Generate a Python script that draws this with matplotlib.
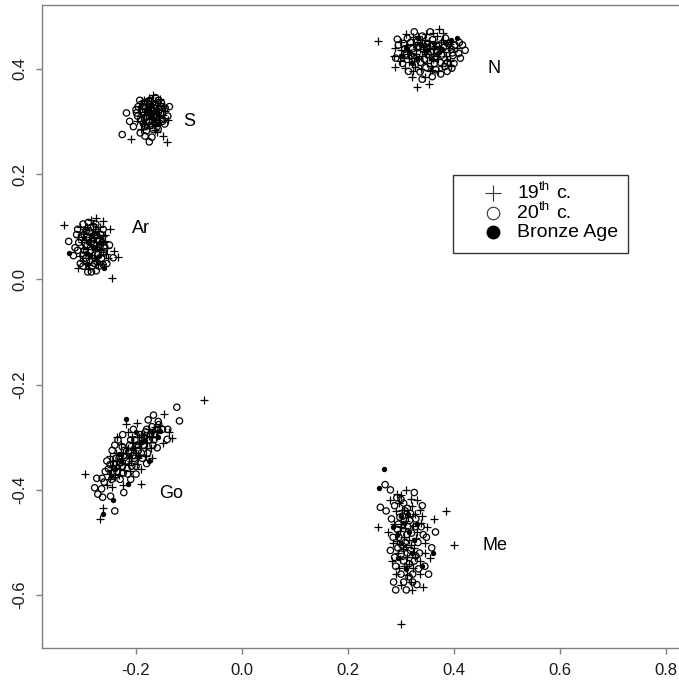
import matplotlib
matplotlib.use("Agg")
import matplotlib.pyplot as plt
from matplotlib.transforms import offset_copy
import numpy as np

plt.rcParams['font.family'] = ['Liberation Sans', 'DejaVu Sans']

# points, (x, y) per specimen
# 19th c. = "+", 20th c. = open circle, Bronze Age = filled circle
N_plus = [(0.257, 0.453), (0.372, 0.475), (0.288, 0.439), (0.286, 0.424), (0.288, 0.404),
          (0.330, 0.366), (0.352, 0.370), (0.320, 0.385), (0.305, 0.420), (0.312, 0.445),
          (0.318, 0.430), (0.325, 0.415), (0.330, 0.450), (0.335, 0.438), (0.340, 0.425),
          (0.345, 0.455), (0.350, 0.410), (0.355, 0.440), (0.360, 0.428), (0.365, 0.448),
          (0.370, 0.418), (0.375, 0.435), (0.380, 0.455), (0.385, 0.425), (0.390, 0.440),
          (0.300, 0.435), (0.308, 0.402), (0.322, 0.460), (0.338, 0.400), (0.348, 0.465),
          (0.358, 0.398), (0.368, 0.462), (0.378, 0.405), (0.395, 0.450), (0.315, 0.412),
          (0.328, 0.428), (0.342, 0.442), (0.353, 0.422), (0.362, 0.437), (0.333, 0.462),
          (0.298, 0.415), (0.392, 0.415), (0.303, 0.428), (0.313, 0.436), (0.323, 0.447),
          (0.334, 0.421), (0.344, 0.433), (0.352, 0.452), (0.361, 0.419), (0.372, 0.441),
          (0.382, 0.432), (0.393, 0.446), (0.326, 0.404), (0.339, 0.455), (0.357, 0.406),
          (0.368, 0.425), (0.386, 0.417), (0.316, 0.420), (0.347, 0.428), (0.364, 0.443),
          (0.329, 0.437), (0.376, 0.450), (0.395, 0.405), (0.405, 0.440), (0.300, 0.450),
          (0.310, 0.465), (0.355, 0.395), (0.370, 0.395), (0.345, 0.385), (0.323, 0.395),
          (0.380, 0.468), (0.360, 0.468)]
N_open = [(0.293, 0.456), (0.421, 0.435), (0.412, 0.420), (0.396, 0.401), (0.359, 0.385),
          (0.336, 0.394), (0.409, 0.429), (0.402, 0.445), (0.310, 0.428), (0.318, 0.450),
          (0.327, 0.408), (0.332, 0.440), (0.344, 0.418), (0.350, 0.448), (0.356, 0.432),
          (0.363, 0.410), (0.371, 0.445), (0.377, 0.426), (0.384, 0.458), (0.388, 0.412),
          (0.395, 0.437), (0.303, 0.410), (0.314, 0.395), (0.340, 0.462), (0.366, 0.398),
          (0.398, 0.425), (0.380, 0.440), (0.322, 0.438), (0.347, 0.402), (0.416, 0.445),
          (0.305, 0.448), (0.360, 0.455), (0.307, 0.437), (0.319, 0.424), (0.331, 0.452),
          (0.337, 0.412), (0.352, 0.427), (0.358, 0.445), (0.369, 0.433), (0.374, 0.412),
          (0.389, 0.448), (0.397, 0.430), (0.342, 0.437), (0.312, 0.458), (0.365, 0.420),
          (0.383, 0.404), (0.326, 0.419), (0.290, 0.420), (0.295, 0.445), (0.410, 0.450),
          (0.400, 0.410), (0.375, 0.390), (0.340, 0.380), (0.325, 0.470), (0.355, 0.470),
          (0.387, 0.395)]
N_bronze = [(0.406, 0.458), (0.395, 0.455), (0.310, 0.440), (0.330, 0.420), (0.350, 0.435),
            (0.370, 0.430), (0.320, 0.410), (0.385, 0.448), (0.345, 0.445), (0.300, 0.425),
            (0.336, 0.447), (0.358, 0.418), (0.378, 0.438), (0.315, 0.430), (0.333, 0.458),
            (0.362, 0.448)]

S_plus = [(-0.210, 0.266), (-0.150, 0.273), (-0.142, 0.260), (-0.139, 0.302), (-0.195, 0.330),
          (-0.185, 0.340), (-0.175, 0.345), (-0.165, 0.338), (-0.155, 0.342), (-0.148, 0.330),
          (-0.190, 0.310), (-0.180, 0.320), (-0.170, 0.305), (-0.160, 0.318), (-0.150, 0.312),
          (-0.185, 0.295), (-0.175, 0.288), (-0.165, 0.292), (-0.155, 0.298), (-0.198, 0.300),
          (-0.160, 0.280), (-0.172, 0.328), (-0.182, 0.305), (-0.145, 0.320), (-0.168, 0.350),
          (-0.158, 0.303), (-0.178, 0.312), (-0.190, 0.285), (-0.162, 0.325), (-0.188, 0.325),
          (-0.181, 0.333), (-0.174, 0.318), (-0.167, 0.315), (-0.159, 0.331), (-0.152, 0.322),
          (-0.176, 0.295), (-0.169, 0.298), (-0.163, 0.308), (-0.184, 0.312), (-0.156, 0.309),
          (-0.171, 0.338), (-0.193, 0.318), (-0.147, 0.307), (-0.179, 0.325), (-0.188, 0.338),
          (-0.176, 0.305), (-0.154, 0.334), (-0.165, 0.284)]
S_open = [(-0.218, 0.316), (-0.226, 0.275), (-0.175, 0.261), (-0.137, 0.328), (-0.205, 0.290),
          (-0.200, 0.322), (-0.192, 0.278), (-0.183, 0.272), (-0.170, 0.270), (-0.158, 0.285),
          (-0.146, 0.295), (-0.140, 0.310), (-0.152, 0.335), (-0.163, 0.345), (-0.178, 0.335),
          (-0.193, 0.340), (-0.188, 0.318), (-0.176, 0.300), (-0.166, 0.310), (-0.156, 0.322),
          (-0.182, 0.290), (-0.171, 0.320), (-0.161, 0.298), (-0.197, 0.310), (-0.212, 0.300),
          (-0.186, 0.328), (-0.150, 0.300), (-0.168, 0.285), (-0.190, 0.302), (-0.184, 0.335),
          (-0.177, 0.322), (-0.170, 0.313), (-0.164, 0.330), (-0.157, 0.340), (-0.153, 0.315),
          (-0.173, 0.292), (-0.162, 0.318), (-0.181, 0.308), (-0.196, 0.328), (-0.145, 0.325),
          (-0.186, 0.296), (-0.160, 0.290), (-0.174, 0.340), (-0.153, 0.328), (-0.199, 0.316),
          (-0.180, 0.282)]
S_bronze = [(-0.180, 0.315), (-0.165, 0.322), (-0.172, 0.308), (-0.158, 0.312), (-0.185, 0.300),
            (-0.170, 0.332), (-0.160, 0.295), (-0.176, 0.325), (-0.166, 0.302), (-0.168, 0.318),
            (-0.182, 0.322)]

Ar_plus = [(-0.335, 0.104), (-0.275, 0.116), (-0.262, 0.111), (-0.250, 0.095), (-0.241, 0.054),
           (-0.234, 0.043), (-0.246, 0.003), (-0.310, 0.022), (-0.300, 0.090), (-0.292, 0.100),
           (-0.285, 0.080), (-0.278, 0.095), (-0.270, 0.085), (-0.262, 0.070), (-0.255, 0.060),
           (-0.300, 0.060), (-0.290, 0.050), (-0.280, 0.040), (-0.270, 0.055), (-0.265, 0.030),
           (-0.285, 0.065), (-0.275, 0.070), (-0.295, 0.075), (-0.305, 0.045), (-0.258, 0.085),
           (-0.272, 0.030), (-0.288, 0.028), (-0.310, 0.080), (-0.282, 0.105), (-0.268, 0.100),
           (-0.252, 0.040), (-0.300, 0.035), (-0.278, 0.055), (-0.296, 0.095), (-0.287, 0.073),
           (-0.281, 0.088), (-0.274, 0.062), (-0.268, 0.078), (-0.263, 0.052), (-0.293, 0.058),
           (-0.283, 0.047), (-0.276, 0.035), (-0.302, 0.070), (-0.289, 0.040), (-0.271, 0.092),
           (-0.258, 0.072), (-0.295, 0.030), (-0.279, 0.078), (-0.305, 0.100), (-0.285, 0.112),
           (-0.262, 0.082), (-0.290, 0.020), (-0.256, 0.048)]
Ar_open = [(-0.327, 0.072), (-0.243, 0.041), (-0.291, 0.014), (-0.284, 0.014), (-0.275, 0.016),
           (-0.310, 0.095), (-0.300, 0.105), (-0.290, 0.108), (-0.280, 0.100), (-0.315, 0.060),
           (-0.308, 0.070), (-0.298, 0.085), (-0.288, 0.090), (-0.270, 0.075), (-0.260, 0.050),
           (-0.250, 0.065), (-0.265, 0.040), (-0.278, 0.030), (-0.295, 0.040), (-0.305, 0.030),
           (-0.285, 0.055), (-0.275, 0.085), (-0.262, 0.095), (-0.292, 0.065), (-0.255, 0.030),
           (-0.318, 0.045), (-0.268, 0.062), (-0.303, 0.080), (-0.294, 0.092), (-0.286, 0.098),
           (-0.279, 0.068), (-0.272, 0.048), (-0.266, 0.085), (-0.259, 0.060), (-0.297, 0.055),
           (-0.288, 0.035), (-0.282, 0.025), (-0.270, 0.025), (-0.310, 0.055), (-0.276, 0.105),
           (-0.300, 0.045), (-0.312, 0.085), (-0.293, 0.080), (-0.283, 0.072), (-0.264, 0.070),
           (-0.273, 0.058), (-0.300, 0.025), (-0.262, 0.028)]
Ar_bronze = [(-0.327, 0.050), (-0.260, 0.021), (-0.290, 0.070), (-0.280, 0.060), (-0.270, 0.045),
             (-0.295, 0.050), (-0.285, 0.085), (-0.275, 0.040), (-0.298, 0.078), (-0.267, 0.068),
             (-0.286, 0.045), (-0.278, 0.088), (-0.292, 0.030)]

Go_plus = [(-0.071, -0.229), (-0.297, -0.370), (-0.262, -0.435), (-0.267, -0.456), (-0.191, -0.388),
           (-0.137, -0.290), (-0.132, -0.302), (-0.218, -0.274), (-0.199, -0.272), (-0.148, -0.256),
           (-0.250, -0.370), (-0.245, -0.355), (-0.240, -0.375), (-0.235, -0.345), (-0.230, -0.360),
           (-0.225, -0.330), (-0.220, -0.350), (-0.215, -0.320), (-0.210, -0.340), (-0.205, -0.310),
           (-0.200, -0.330), (-0.195, -0.300), (-0.190, -0.320), (-0.185, -0.295), (-0.180, -0.310),
           (-0.175, -0.285), (-0.170, -0.300), (-0.165, -0.280), (-0.160, -0.290), (-0.228, -0.312),
           (-0.212, -0.365), (-0.198, -0.350), (-0.238, -0.330), (-0.182, -0.335), (-0.255, -0.390),
           (-0.245, -0.395), (-0.208, -0.300), (-0.172, -0.320), (-0.248, -0.362), (-0.243, -0.345),
           (-0.233, -0.352), (-0.226, -0.340), (-0.219, -0.330), (-0.213, -0.352), (-0.206, -0.325),
           (-0.201, -0.318), (-0.194, -0.312), (-0.187, -0.305), (-0.181, -0.320), (-0.176, -0.298),
           (-0.168, -0.290), (-0.162, -0.300), (-0.222, -0.362), (-0.238, -0.352), (-0.209, -0.345),
           (-0.196, -0.340), (-0.190, -0.295), (-0.155, -0.278), (-0.250, -0.380), (-0.232, -0.372),
           (-0.235, -0.300), (-0.215, -0.290), (-0.250, -0.335), (-0.190, -0.360), (-0.170, -0.340),
           (-0.150, -0.310), (-0.225, -0.390)]
Go_open = [(-0.123, -0.243), (-0.118, -0.269), (-0.274, -0.378), (-0.264, -0.378), (-0.278, -0.396),
           (-0.272, -0.408), (-0.263, -0.414), (-0.248, -0.412), (-0.223, -0.405), (-0.240, -0.440),
           (-0.141, -0.304), (-0.167, -0.258), (-0.157, -0.276), (-0.177, -0.267),
           (-0.252, -0.360), (-0.246, -0.380), (-0.242, -0.350), (-0.236, -0.365), (-0.232, -0.340),
           (-0.226, -0.355), (-0.222, -0.325), (-0.218, -0.345), (-0.212, -0.315), (-0.206, -0.335),
           (-0.202, -0.305), (-0.196, -0.325), (-0.192, -0.295), (-0.186, -0.315), (-0.182, -0.290),
           (-0.176, -0.305), (-0.170, -0.280), (-0.164, -0.295), (-0.158, -0.270), (-0.150, -0.285),
           (-0.240, -0.315), (-0.230, -0.380), (-0.215, -0.370), (-0.200, -0.355), (-0.188, -0.340),
           (-0.178, -0.330), (-0.234, -0.305), (-0.260, -0.385), (-0.255, -0.345), (-0.168, -0.315),
           (-0.244, -0.368), (-0.238, -0.340), (-0.229, -0.348), (-0.221, -0.338), (-0.214, -0.328),
           (-0.208, -0.355), (-0.203, -0.340), (-0.198, -0.315), (-0.190, -0.330), (-0.184, -0.300),
           (-0.173, -0.295), (-0.166, -0.305), (-0.160, -0.282), (-0.224, -0.368), (-0.249, -0.352),
           (-0.226, -0.318), (-0.210, -0.305), (-0.180, -0.285), (-0.225, -0.295), (-0.205, -0.285),
           (-0.245, -0.325), (-0.200, -0.370), (-0.180, -0.350), (-0.160, -0.320), (-0.210, -0.380),
           (-0.258, -0.365), (-0.140, -0.285), (-0.265, -0.398)]
Go_bronze = [(-0.262, -0.446), (-0.219, -0.266), (-0.155, -0.288), (-0.158, -0.299), (-0.215, -0.388),
             (-0.243, -0.419), (-0.228, -0.345), (-0.205, -0.320), (-0.185, -0.305), (-0.170, -0.290),
             (-0.240, -0.360), (-0.195, -0.335), (-0.233, -0.332), (-0.212, -0.335), (-0.192, -0.310),
             (-0.248, -0.373), (-0.200, -0.290), (-0.175, -0.345)]

Me_plus = [(0.256, -0.470), (0.385, -0.440), (0.400, -0.505), (0.300, -0.655), (0.280, -0.420),
           (0.290, -0.440), (0.300, -0.410), (0.310, -0.460), (0.320, -0.430), (0.330, -0.480),
           (0.340, -0.450), (0.285, -0.500), (0.295, -0.520), (0.305, -0.490), (0.315, -0.540),
           (0.325, -0.510), (0.335, -0.560), (0.345, -0.500), (0.290, -0.560), (0.300, -0.580),
           (0.320, -0.590), (0.275, -0.480), (0.350, -0.470), (0.310, -0.400), (0.330, -0.420),
           (0.355, -0.530), (0.300, -0.465), (0.318, -0.505), (0.342, -0.585), (0.283, -0.535),
           (0.362, -0.455), (0.296, -0.425), (0.306, -0.438), (0.314, -0.452), (0.322, -0.468),
           (0.298, -0.478), (0.308, -0.472), (0.316, -0.495), (0.328, -0.492), (0.292, -0.498),
           (0.304, -0.512), (0.312, -0.528), (0.322, -0.548), (0.296, -0.548), (0.336, -0.535),
           (0.287, -0.465), (0.338, -0.462), (0.306, -0.545), (0.318, -0.575), (0.327, -0.445),
           (0.302, -0.438), (0.292, -0.408), (0.318, -0.418), (0.335, -0.438), (0.310, -0.508),
           (0.298, -0.532), (0.326, -0.528), (0.312, -0.562), (0.300, -0.470), (0.345, -0.520)]
Me_open = [(0.261, -0.433), (0.270, -0.390), (0.290, -0.590), (0.310, -0.590), (0.322, -0.575),
           (0.280, -0.400), (0.292, -0.415), (0.305, -0.425), (0.318, -0.445), (0.328, -0.455),
           (0.338, -0.470), (0.348, -0.490), (0.282, -0.455), (0.293, -0.475), (0.302, -0.505),
           (0.312, -0.520), (0.325, -0.535), (0.335, -0.520), (0.345, -0.545), (0.280, -0.515),
           (0.290, -0.545), (0.300, -0.560), (0.315, -0.565), (0.330, -0.580), (0.358, -0.510),
           (0.365, -0.480), (0.272, -0.440), (0.308, -0.440), (0.325, -0.405), (0.352, -0.560),
           (0.286, -0.575), (0.340, -0.430), (0.288, -0.430), (0.298, -0.452), (0.312, -0.435),
           (0.320, -0.482), (0.332, -0.500), (0.296, -0.490), (0.308, -0.500), (0.318, -0.515),
           (0.288, -0.528), (0.305, -0.535), (0.328, -0.525), (0.300, -0.418), (0.342, -0.485),
           (0.313, -0.470), (0.294, -0.510), (0.322, -0.560), (0.303, -0.450), (0.316, -0.458),
           (0.295, -0.465), (0.327, -0.470), (0.311, -0.485), (0.300, -0.522), (0.316, -0.540),
           (0.333, -0.550), (0.285, -0.490), (0.305, -0.575)]
Me_bronze = [(0.259, -0.397), (0.268, -0.360), (0.360, -0.520), (0.340, -0.545), (0.300, -0.450),
             (0.315, -0.480), (0.295, -0.530), (0.325, -0.495), (0.285, -0.470), (0.310, -0.550),
             (0.305, -0.462), (0.320, -0.520), (0.292, -0.485), (0.313, -0.445), (0.300, -0.500),
             (0.330, -0.465)]

# cluster names and where they are written
cluster_names = ['N', 'S', 'Ar', 'Go', 'Me']
name_pos = [(0.475, 0.400), (-0.100, 0.300), (-0.190, 0.097), (-0.133, -0.406), (0.478, -0.505)]

legend_main = ['19', '20', 'Bronze Age']
legend_sup = ['th', 'th', '']
legend_tail = ['c.', 'c.', '']

plus_all = N_plus + S_plus + Ar_plus + Go_plus + Me_plus
open_all = N_open + S_open + Ar_open + Go_open + Me_open
bronze_all = N_bronze + S_bronze + Ar_bronze + Go_bronze + Me_bronze

fig = plt.figure(figsize=(6.79, 6.85), dpi=100)
# axes box in pixels: left spine x=41.5, top y=5, bottom y=648, right spine off the picture
W, H = 679.0, 685.0
ax = fig.add_axes([41.5 / W, 37.0 / H, 658.5 / W, 643.0 / H])

px = np.array(plus_all)
ox = np.array(open_all)
bx = np.array(bronze_all)
ax.scatter(px[:, 0], px[:, 1], marker='+', s=30, c='black', linewidths=0.9, zorder=3)
ax.scatter(ox[:, 0], ox[:, 1], marker='o', s=21, facecolors='none', edgecolors='black',
           linewidths=0.9, zorder=3)
ax.scatter(bx[:, 0], bx[:, 1], marker='o', s=15, c='black', linewidths=0, zorder=4)

for name, (tx, ty) in zip(cluster_names, name_pos):
    ax.text(tx, ty, name, fontsize=13, ha='center', va='center')

# legend box drawn R-style
lx0, lx1, ly0, ly1 = 0.3975, 0.7292, 0.0505, 0.198
ax.add_patch(plt.Rectangle((lx0, ly0), lx1 - lx0, ly1 - ly0, fill=False,
                           edgecolor='#333333', linewidth=1.0, zorder=5))
rows = [0.163, 0.1254, 0.0889]
ax.plot([0.4736], [rows[0]], marker='+', ms=12, mew=0.8, color='#333333', zorder=6)
ax.plot([0.4736], [rows[1]], marker='o', ms=9, mfc='white', mec='#333333', mew=0.8, zorder=6)
ax.plot([0.4736], [rows[2]], marker='o', ms=9, mfc='black', mec='black', zorder=6)
for main, sup, tail, ry in zip(legend_main, legend_sup, legend_tail, rows):
    ax.text(0.519, ry, main, fontsize=14, ha='left', va='center', zorder=6)
    if sup:
        tr_sup = offset_copy(ax.transData, fig=fig, x=21.5, y=6, units='dots')
        ax.text(0.519, ry, sup, fontsize=9.5, ha='left', va='center', transform=tr_sup, zorder=6)
        tr_tail = offset_copy(ax.transData, fig=fig, x=39, y=0, units='dots')
        ax.text(0.519, ry, tail, fontsize=14, ha='left', va='center', transform=tr_tail, zorder=6)

x_per_px = 1.0 / 530.0
y_per_px = 1.0 / 526.5
ax.set_xlim((41.5 - 242.0) * x_per_px, (700.0 - 242.0) * x_per_px)
ax.set_ylim((279.3 - 648.0) * y_per_px, (279.3 - 5.0) * y_per_px)

ax.set_xticks([-0.2, 0.0, 0.2, 0.4, 0.6, 0.8])
ax.set_xticklabels(['-0.2', '0.0', '0.2', '0.4', '0.6', '0.8'])
ax.set_yticks([-0.6, -0.4, -0.2, 0.0, 0.2, 0.4])
ax.set_yticklabels(['-0.6', '-0.4', '-0.2', '0.0', '0.2', '0.4'], rotation=90, va='center')

for sp in ax.spines.values():
    sp.set_color('#808080')
    sp.set_linewidth(1.0)
ax.tick_params(axis='both', direction='out', length=4, width=1, color='#808080',
               labelsize=12, labelcolor='#1a1a1a')
ax.tick_params(axis='x', pad=7)
ax.tick_params(axis='y', pad=6)

fig.savefig('out.png', dpi=100)
